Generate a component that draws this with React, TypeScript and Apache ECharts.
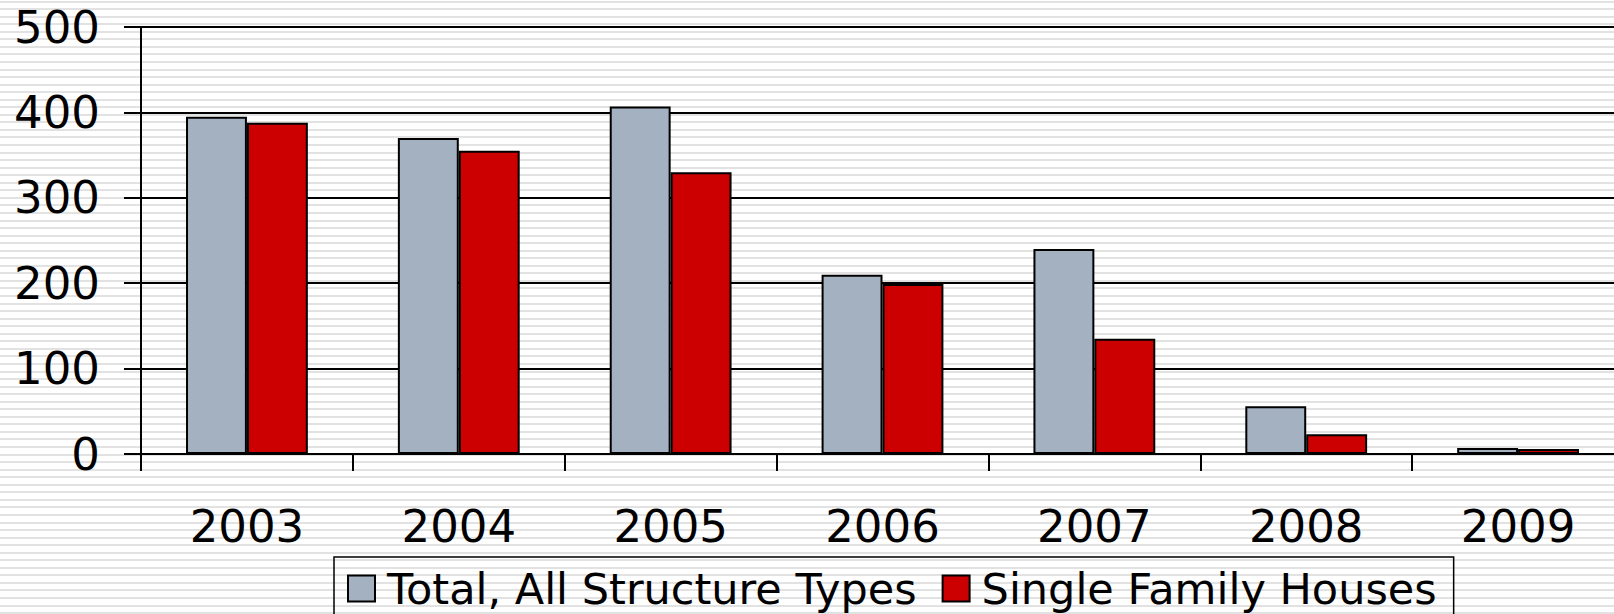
import React, { useEffect, useRef } from "react";
import * as echarts from "echarts";

const years = ["2003", "2004", "2005", "2006", "2007", "2008", "2009"];
const totalAllStructureTypes = [395, 370, 407, 210, 240, 56, 7];
const singleFamilyHouses = [388, 355, 330, 199, 135, 23, 6];
const seriesNames = ["Total, All Structure Types", "Single Family Houses"];

const FONT = "DejaVu Sans";

export default function App() {
  const ref = useRef<HTMLDivElement>(null);
  useEffect(() => {
    if (!ref.current) return;
    const chart = echarts.init(ref.current, null, { renderer: "svg" });
    chart.setOption({
      animation: false,
      backgroundColor: "transparent",
      grid: { left: 141, top: 27, right: 6, bottom: 160, containLabel: false },
      legend: {
        left: 334,
        top: 557,
        orient: "horizontal",
        icon: "rect",
        itemWidth: 27,
        itemHeight: 26,
        itemGap: 25,
        padding: [10, 17, 40, 13],
        borderColor: "#000",
        borderWidth: 1.5,
        backgroundColor: "transparent",
        data: seriesNames,
        textStyle: {
          fontFamily: FONT,
          fontSize: 43,
          color: "#000",
          padding: [0, 0, 0, 7],
        },
      },
      xAxis: {
        type: "category",
        data: years,
        boundaryGap: true,
        axisLine: { show: true, lineStyle: { color: "#000", width: 2 } },
        axisTick: { show: true, length: 17, lineStyle: { color: "#000", width: 2 } },
        axisLabel: { fontFamily: FONT, fontSize: 45, color: "#000", margin: 50 },
        splitLine: { show: false },
      },
      yAxis: {
        type: "value",
        min: 0,
        max: 500,
        interval: 100,
        axisLine: { show: true, lineStyle: { color: "#000", width: 2 } },
        axisTick: { show: true, length: 17, lineStyle: { color: "#000", width: 2 } },
        axisLabel: { fontFamily: FONT, fontSize: 45, color: "#000", margin: 41 },
        splitLine: { show: true, lineStyle: { color: "#000", width: 2 } },
      },
      series: [
        {
          name: seriesNames[0],
          type: "bar",
          data: totalAllStructureTypes,
          barGap: "0%",
          barCategoryGap: "42.5%",
          itemStyle: { color: "#A3B1C0", borderColor: "#000", borderWidth: 2 },
        },
        {
          name: seriesNames[1],
          type: "bar",
          data: singleFamilyHouses,
          barGap: "0%",
          barCategoryGap: "42.5%",
          itemStyle: { color: "#CC0000", borderColor: "#000", borderWidth: 2 },
        },
      ],
    });
    return () => chart.dispose();
  }, []);
  return (
    <div
      style={{
        position: "absolute",
        left: 0,
        top: 0,
        width: 1614,
        height: 614,
        overflow: "hidden",
        background:
          "repeating-linear-gradient(to bottom, #ffffff 0px, #ffffff 0.6px, #e2e2e2 0.6px, #e2e2e2 2.6px, #ffffff 2.6px, #ffffff 7.55px)",
      }}
    >
      <div ref={ref} style={{ width: 1630, height: 614 }} />
    </div>
  );
}
